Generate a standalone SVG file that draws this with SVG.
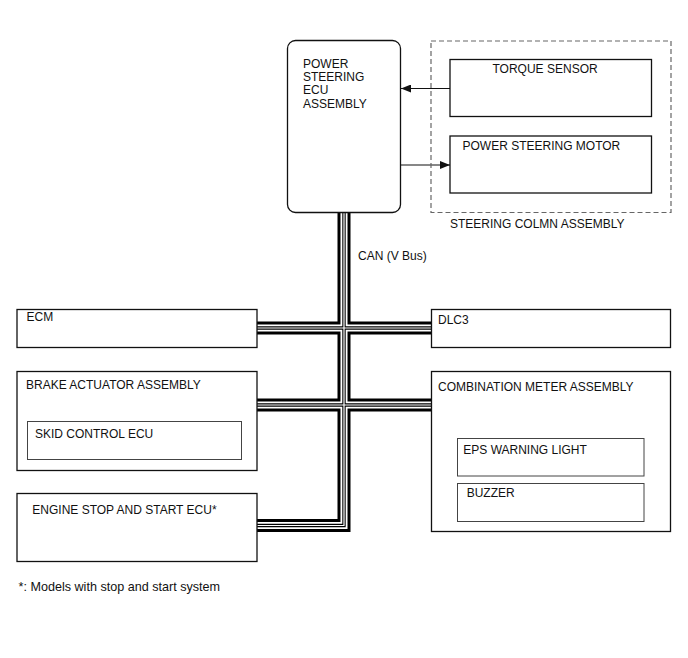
<svg xmlns="http://www.w3.org/2000/svg" width="688" height="658" viewBox="0 0 688 658">
<style>
text{font-family:"Liberation Sans",Arial,sans-serif;font-size:12px;fill:#111}
.box{fill:#fff;stroke:#111;stroke-width:1.3}
.inner{fill:#fff;stroke:#444;stroke-width:1}
.dash{fill:none;stroke:#666;stroke-width:1.2;stroke-dasharray:5 3}
.arr{fill:none;stroke:#111;stroke-width:1.2}
.b1{fill:none;stroke:#000;stroke-width:13;stroke-linejoin:miter}
.b2{fill:none;stroke:#fff;stroke-width:7;stroke-linejoin:miter}
.b3{fill:none;stroke:#000;stroke-width:3.4;stroke-linejoin:miter}
.b4{fill:none;stroke:#fff;stroke-width:1.2;stroke-linejoin:miter}
</style>
<defs>
<marker id="ah" viewBox="0 0 10 8" refX="10" refY="4" markerWidth="10" markerHeight="8" markerUnits="userSpaceOnUse" orient="auto">
<path d="M0,0 L10,4 L0,8 Z" fill="#111"/>
</marker>
<path id="bus" d="M344 212 V525.5 H257 M257 328 H431 M257 405 H431"/>
</defs>
<g id="connectors">
<use href="#bus" class="b1"/>
<use href="#bus" class="b2"/>
<use href="#bus" class="b3"/>
<use href="#bus" class="b4"/>
<line class="arr" x1="450" y1="88.5" x2="401" y2="88.5" marker-end="url(#ah)"/>
<line class="arr" x1="401" y1="165" x2="450" y2="165" marker-end="url(#ah)"/>
<text x="358" y="259.5">CAN (V Bus)</text>
</g>
<g id="steering-column">
<rect class="dash" x="431" y="41" width="240" height="171.5"/>
<text x="450" y="227.5">STEERING COLMN ASSEMBLY</text>
</g>
<g id="ps-ecu">
<rect class="box" x="287.5" y="40.5" width="113" height="172" rx="8"/>
<text x="303" y="67.7">POWER</text>
<text x="303" y="81">STEERING</text>
<text x="303" y="94.3">ECU</text>
<text x="303" y="107.6">ASSEMBLY</text>
</g>
<g id="torque-sensor">
<rect class="box" x="450" y="59.5" width="201.5" height="57"/>
<text x="492.5" y="73">TORQUE SENSOR</text>
</g>
<g id="ps-motor">
<rect class="box" x="450" y="136" width="201.5" height="57"/>
<text x="462.5" y="149.5">POWER STEERING MOTOR</text>
</g>
<g id="ecm">
<rect class="box" x="17" y="309.5" width="240" height="38"/>
<text x="26.5" y="321">ECM</text>
</g>
<g id="dlc3">
<rect class="box" x="431.5" y="309.5" width="239" height="38"/>
<text x="438" y="324">DLC3</text>
</g>
<g id="brake-actuator">
<rect class="box" x="17" y="371.5" width="240" height="99"/>
<text x="26" y="388.5">BRAKE ACTUATOR ASSEMBLY</text>
</g>
<g id="skid-control">
<rect class="inner" x="27.5" y="421.5" width="214" height="38"/>
<text x="35" y="437.5">SKID CONTROL ECU</text>
</g>
<g id="combination-meter">
<rect class="box" x="431.5" y="371.5" width="239" height="160"/>
<text x="438" y="390.7">COMBINATION METER ASSEMBLY</text>
</g>
<g id="eps-warning">
<rect class="inner" x="457.5" y="438.5" width="186.5" height="37.5"/>
<text x="463.3" y="454">EPS WARNING LIGHT</text>
</g>
<g id="buzzer">
<rect class="inner" x="457.5" y="483.5" width="186.5" height="38"/>
<text x="466.7" y="497.3">BUZZER</text>
</g>
<g id="engine-stop-start">
<rect class="box" x="17" y="493.5" width="240" height="68"/>
<text x="32.3" y="514">ENGINE STOP AND START ECU*</text>
</g>
<text x="18.5" y="590.5" style="font-size:12.6px">*: Models with stop and start system</text>
</svg>
